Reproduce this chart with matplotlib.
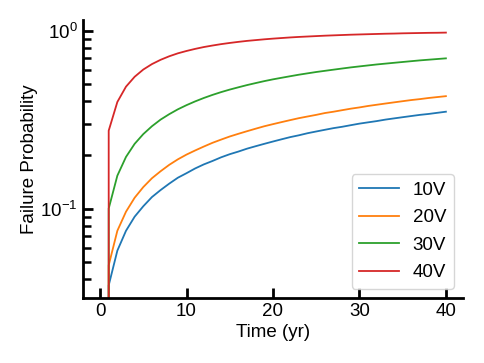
import numpy as np
import matplotlib
matplotlib.use("Agg")
import matplotlib.pyplot as plt

plt.rcParams['font.family'] = ['Liberation Sans', 'DejaVu Sans']
plt.rcParams['mathtext.fontset'] = 'custom'
plt.rcParams['mathtext.rm'] = 'Liberation Sans'
plt.rcParams['mathtext.it'] = 'Liberation Sans:italic'
plt.rcParams['mathtext.bf'] = 'Liberation Sans:bold'

# time in years
years = list(range(0, 41))

# failure probability per voltage (value at t=0 is zero)
p_10v = [0.0, 0.037, 0.058, 0.075, 0.090, 0.103, 0.116, 0.127, 0.138, 0.149, 0.158,
         0.168, 0.177, 0.185, 0.194, 0.202, 0.209, 0.217, 0.224, 0.231, 0.238,
         0.245, 0.252, 0.258, 0.265, 0.271, 0.277, 0.283, 0.288, 0.294, 0.300,
         0.305, 0.310, 0.316, 0.321, 0.326, 0.331, 0.336, 0.340, 0.345, 0.350]
p_20v = [0.0, 0.048, 0.075, 0.096, 0.115, 0.132, 0.148, 0.162, 0.176, 0.189, 0.201,
         0.212, 0.223, 0.234, 0.244, 0.254, 0.263, 0.272, 0.281, 0.290, 0.298,
         0.306, 0.314, 0.322, 0.329, 0.336, 0.344, 0.350, 0.357, 0.364, 0.370,
         0.377, 0.383, 0.389, 0.395, 0.401, 0.407, 0.412, 0.418, 0.423, 0.428]
p_30v = [0.0, 0.100, 0.153, 0.195, 0.231, 0.262, 0.290, 0.316, 0.339, 0.361, 0.381,
         0.400, 0.418, 0.435, 0.451, 0.466, 0.480, 0.494, 0.507, 0.520, 0.532,
         0.543, 0.554, 0.565, 0.575, 0.585, 0.594, 0.603, 0.612, 0.621, 0.629,
         0.637, 0.645, 0.652, 0.659, 0.666, 0.673, 0.680, 0.686, 0.692, 0.698]
p_40v = [0.0, 0.274, 0.397, 0.484, 0.550, 0.604, 0.648, 0.685, 0.717, 0.745, 0.768,
         0.789, 0.808, 0.824, 0.839, 0.852, 0.864, 0.875, 0.884, 0.893, 0.901,
         0.908, 0.915, 0.921, 0.926, 0.931, 0.936, 0.940, 0.944, 0.948, 0.951,
         0.954, 0.957, 0.960, 0.962, 0.965, 0.967, 0.969, 0.971, 0.972, 0.974]

series = [("10V", p_10v, "#1f77b4"),
          ("20V", p_20v, "#ff7f0e"),
          ("30V", p_30v, "#2ca02c"),
          ("40V", p_40v, "#d62728")]

fig = plt.figure(figsize=(4.84, 3.63), dpi=100)
ax = fig.add_axes([0.171, 0.179, 0.786, 0.766])

for label, vals, color in series:
    ax.plot(years, vals, color=color, lw=1.3, label=label)

ax.set_yscale('log')
ax.set_xticks([0, 10, 20, 30, 40])
ax.set_xlabel('Time (yr)', fontsize=13.5, labelpad=3)
ax.set_ylabel('Failure Probability', fontsize=13.5, labelpad=2)

for side in ['top', 'right']:
    ax.spines[side].set_visible(False)
for side in ['left', 'bottom']:
    ax.spines[side].set_linewidth(2)

ax.tick_params(which='major', direction='in', length=7.5, width=2, labelsize=13.5)
ax.tick_params(which='minor', direction='in', length=5.5, width=1.8)

ax.legend(loc='lower right', fontsize=13.5, handlelength=2.1, handletextpad=0.76,
          borderaxespad=0.5, labelspacing=0.55)

fig.savefig('out.png', dpi=100)
